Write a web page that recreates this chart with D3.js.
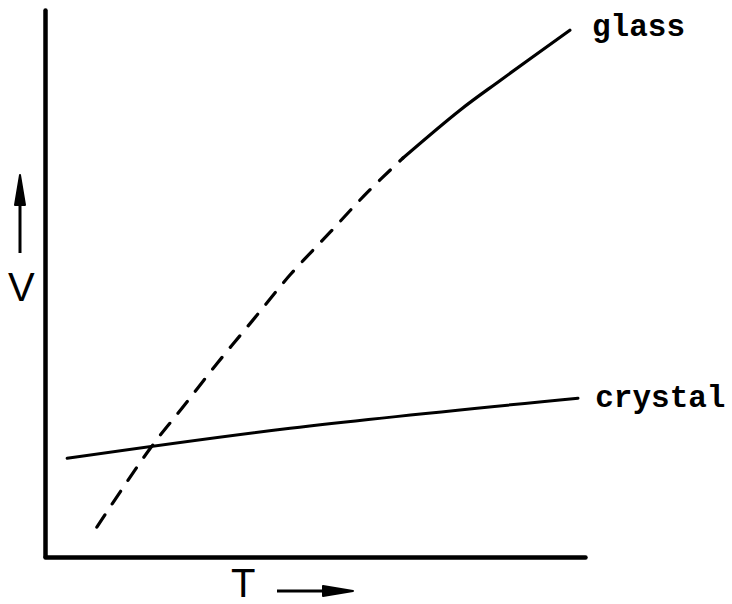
<!DOCTYPE html>
<html>
<head>
<meta charset="utf-8">
<script src="https://cdn.jsdelivr.net/npm/d3@7"></script>
<style>
  body { margin: 0; background: #fff; }
  .label { font-family: "Liberation Mono", "Courier New", monospace; font-weight: bold; font-size: 31px; }
  .axisName { font-family: "Liberation Sans", Arial, sans-serif; font-size: 40px; }
</style>
</head>
<body>
<div id="chart"></div>
<script>
// glass curve (T, V), dashed below the break, solid above
var glassT = [9.6, 19.4, 25.4, 31.9, 38.5, 45.4, 52.8, 59.6, 66.3, 76.9, 84.3, 97.2];
var glassV = [5.3, 19.6, 27.1, 35.3, 43.2, 51.5, 59.3, 66.5, 72.9, 81.7, 87.1, 96.3];
var glassBreak = 66.3;

var crystalT = [4.1, 45.4, 98.7];
var crystalV = [17.9, 23.4, 28.9];

var width = 732, height = 604;
var margin = {top: 10, left: 45, right: 147, bottom: 48};

var svg = d3.select("#chart")
  .append("svg")
  .attr("width", width)
  .attr("height", height);

var xScale = d3.scaleLinear()
  .domain([0, 100])
  .range([margin.left, width - margin.right]);

var yScale = d3.scaleLinear()
  .domain([0, 100])
  .range([height - margin.bottom, margin.top]);

var glass = glassT.map(function(t, i) { return {t: t, v: glassV[i]}; });
var crystal = crystalT.map(function(t, i) { return {t: t, v: crystalV[i]}; });

var line = d3.line()
  .x(function(d) { return xScale(d.t); })
  .y(function(d) { return yScale(d.v); })
  .curve(d3.curveCatmullRom);

svg.append("path")
  .datum(glass.filter(function(d) { return d.t <= glassBreak; }))
  .attr("d", line)
  .attr("fill", "none")
  .attr("stroke", "#000")
  .attr("stroke-width", 3.2)
  .attr("stroke-linecap", "round")
  .attr("stroke-dasharray", "15,13");

svg.append("path")
  .datum(glass.filter(function(d) { return d.t >= glassBreak; }))
  .attr("d", line)
  .attr("fill", "none")
  .attr("stroke", "#000")
  .attr("stroke-width", 3.2)
  .attr("stroke-linecap", "round");

svg.append("path")
  .datum(crystal)
  .attr("d", line)
  .attr("fill", "none")
  .attr("stroke", "#000")
  .attr("stroke-width", 3)
  .attr("stroke-linecap", "round");

// axes, no ticks
var xAxis = svg.append("g")
  .attr("transform", `translate(0,${height - margin.bottom + 1})`)
  .call(d3.axisBottom(xScale).ticks(0).tickSizeOuter(0));

var yAxis = svg.append("g")
  .attr("transform", `translate(${margin.left},0)`)
  .call(d3.axisLeft(yScale).ticks(0).tickSizeOuter(0));

svg.selectAll(".domain")
  .attr("stroke", "#000")
  .attr("stroke-width", 4.5)
  .attr("stroke-linecap", "round");

// curve labels
svg.append("text")
  .attr("class", "label")
  .attr("x", xScale(101.3))
  .attr("y", yScale(95.2))
  .text("glass");

svg.append("text")
  .attr("class", "label")
  .attr("x", xScale(101.9))
  .attr("y", yScale(27.3))
  .text("crystal");

// axis names with arrows
svg.append("text")
  .attr("class", "axisName")
  .attr("x", 8)
  .attr("y", 301)
  .text("V");

svg.append("line")
  .attr("x1", 20).attr("x2", 20)
  .attr("y1", 253).attr("y2", 195)
  .attr("stroke", "#000")
  .attr("stroke-width", 3);

svg.append("path")
  .attr("d", "M20,175 L25,205 L15,205 Z")
  .attr("fill", "#000")
  .attr("stroke", "#000")
  .attr("stroke-width", 2)
  .attr("stroke-linejoin", "round");

svg.append("text")
  .attr("class", "axisName")
  .attr("x", 231)
  .attr("y", 597)
  .text("T");

svg.append("line")
  .attr("x1", 277).attr("x2", 330)
  .attr("y1", 591).attr("y2", 591)
  .attr("stroke", "#000")
  .attr("stroke-width", 3);

svg.append("path")
  .attr("d", "M353,591 L323,586 L323,596 Z")
  .attr("fill", "#000")
  .attr("stroke", "#000")
  .attr("stroke-width", 2)
  .attr("stroke-linejoin", "round");
</script>
</body>
</html>
